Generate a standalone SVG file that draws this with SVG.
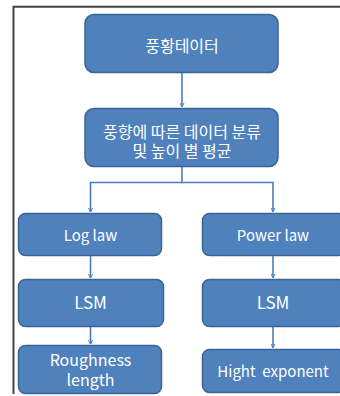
<svg xmlns="http://www.w3.org/2000/svg" width="340" height="396" viewBox="0 0 340 396">
<style>
.box{fill:#4F81BD;stroke:#3A6496;stroke-width:1.5}
.t{fill:#fff;font-family:"Noto Sans CJK KR","Noto Sans",sans-serif;text-anchor:middle;white-space:pre}
.c{fill:none;stroke:#4A7EBB;stroke-width:1.6}
</style>
<defs>
<marker id="ah" viewBox="0 0 10 10" refX="9" refY="5" markerWidth="5" markerHeight="5" orient="auto" markerUnits="userSpaceOnUse">
<path d="M1,1 L9,5 L1,9" fill="none" stroke="#4A7EBB" stroke-width="2"/>
</marker>
</defs>
<rect x="0" y="0" width="340" height="396" fill="#fff"/>
<path d="M13.5,394 V6.8 H340" fill="none" stroke="#444" stroke-width="2"/>
<g id="connectors">
<path class="c" d="M182,72 V107" marker-end="url(#ah)"/>
<path class="c" d="M182,167 V182.5 H90.5 V212" marker-end="url(#ah)"/>
<path class="c" d="M182,182.5 H273 V212" marker-end="url(#ah)"/>
<path class="c" d="M90.5,255 V278" marker-end="url(#ah)"/>
<path class="c" d="M90.5,326 V344" marker-end="url(#ah)"/>
<path class="c" d="M273,255 V278" marker-end="url(#ah)"/>
<path class="c" d="M273,326 V348" marker-end="url(#ah)"/>
</g>
<g id="n1"><rect class="box" x="85" y="14.5" width="193" height="58" rx="9"/><text class="t" x="182" y="52" font-size="16">풍황테이터</text></g>
<g id="n2"><rect class="box" x="85" y="108.5" width="193" height="58" rx="9"/><text class="t" x="182" y="137.5" font-size="16">풍향에 따른 데이터 분류</text><text class="t" x="182" y="157" font-size="16">및 높이 별 평균</text></g>
<g id="n3"><rect class="box" x="18.5" y="213.5" width="143" height="42" rx="7"/><text class="t" x="90.5" y="241" font-size="15">Log law</text></g>
<g id="n4"><rect class="box" x="202.5" y="213.5" width="143" height="42" rx="7"/><text class="t" x="273" y="241" font-size="15">Power law</text></g>
<g id="n5"><rect class="box" x="18.5" y="279.5" width="145" height="47" rx="7"/><text class="t" x="90.5" y="309" font-size="17">LSM</text></g>
<g id="n6"><rect class="box" x="202.5" y="279.5" width="143" height="47" rx="7"/><text class="t" x="273" y="309" font-size="17">LSM</text></g>
<g id="n7"><rect class="box" x="18.5" y="345.5" width="143" height="48" rx="7"/><text class="t" x="90.5" y="365.5" font-size="16">Roughness</text><text class="t" x="90.5" y="385.5" font-size="16">length</text></g>
<g id="n8"><rect class="box" x="202.5" y="349.5" width="143" height="43" rx="7"/><text class="t" x="273" y="377" font-size="15">Hight  exponent</text></g>
</svg>
